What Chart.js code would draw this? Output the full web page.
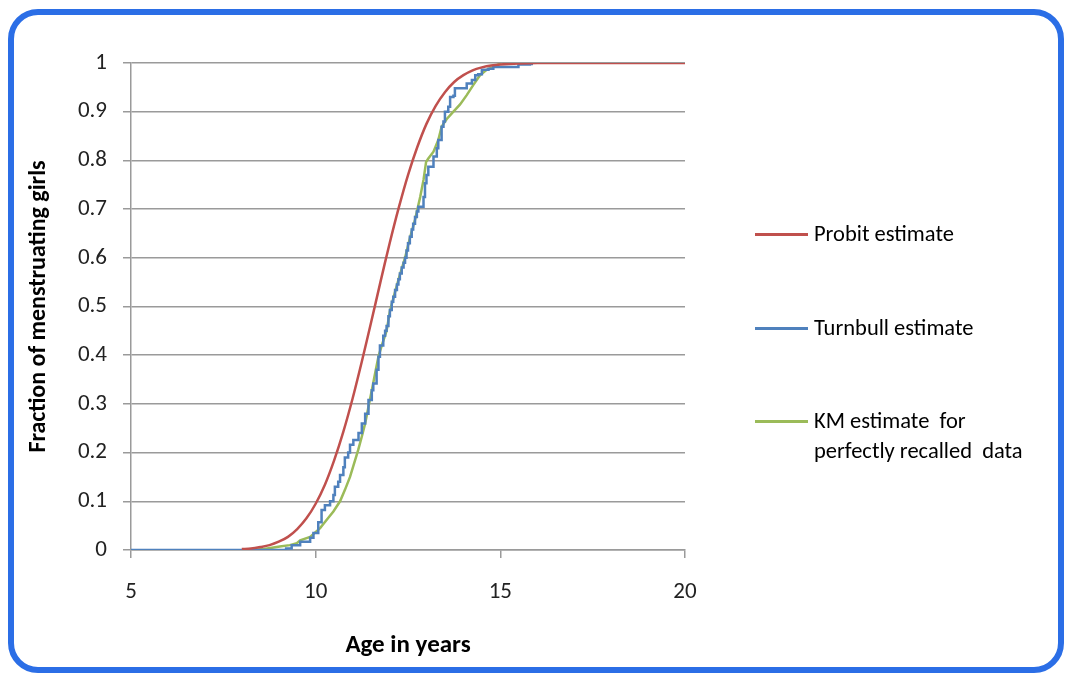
<!DOCTYPE html>
<html>
<head>
<meta charset="utf-8">
<script src="https://cdn.jsdelivr.net/npm/chart.js@4/dist/chart.umd.min.js"></script>
<style>
  html, body { margin: 0; padding: 0; background: #fff; }
  #wrap { position: relative; width: 1067px; height: 675px; overflow: hidden; background: #fff; }
  #chart { position: absolute; left: 0; top: 0; }
  #frame {
    position: absolute; left: 8px; top: 9px; width: 1056px; height: 664px;
    box-sizing: border-box; border: 6.5px solid #2b6ee6; border-radius: 30px;
    pointer-events: none;
  }
  #legend { position: absolute; left: 755px; top: 0; font-family: Carlito, Lato, sans-serif; font-size: 22.5px; color: #000; }
  .item { position: absolute; left: 0; width: 300px; }
  .item .swatch { position: absolute; left: 0; width: 53px; height: 2.5px; }
  .item .txt { position: absolute; left: 59px; width: 300px; line-height: 30px; white-space: pre; }
</style>
</head>
<body>
<div id="wrap">
  <canvas id="chart" width="1067" height="675"></canvas>
  <div id="legend"></div>
  <div id="frame"></div>
</div>
<script>
(function(){
    // Probit estimate (red, smooth)
    const probitAge  = [8.0, 8.25, 8.5, 8.75, 9.0, 9.25, 9.5, 9.75, 10.0, 10.25, 10.5, 10.75, 11.0, 11.25, 11.5, 11.75,
                        12.0, 12.25, 12.5, 12.75, 13.0, 13.25, 13.5, 13.75, 14.0, 14.25, 14.5, 14.75, 15.0, 15.5, 16.0, 20.0];
    const probitFrac = [0.002, 0.003, 0.006, 0.010, 0.017, 0.027, 0.043, 0.065, 0.095, 0.134, 0.184, 0.243, 0.311, 0.387, 0.467, 0.549,
                        0.629, 0.703, 0.770, 0.827, 0.875, 0.912, 0.940, 0.961, 0.975, 0.985, 0.991, 0.995, 0.997, 0.999, 1.0, 1.0];

    // Turnbull estimate (blue, step function)
    const turnbullAge  = [5.0, 9.03, 9.2, 9.35, 9.58, 9.85, 9.94, 10.07, 10.16, 10.25, 10.39, 10.48, 10.52, 10.61, 10.66, 10.75,
                          10.79, 10.88, 10.93, 11.02, 11.16, 11.25, 11.34, 11.43, 11.52, 11.56, 11.65, 11.7, 11.74, 11.83, 11.88,
                          11.92, 11.97, 12.01, 12.06, 12.1, 12.15, 12.2, 12.24, 12.28, 12.33, 12.38, 12.42, 12.46, 12.5, 12.55,
                          12.6, 12.64, 12.69, 12.74, 12.78, 12.87, 12.92, 12.96, 13.0, 13.05, 13.19, 13.28, 13.32, 13.41, 13.46,
                          13.5, 13.59, 13.64, 13.73, 13.77, 14.09, 14.23, 14.32, 14.4, 14.5, 14.68, 14.81, 15.49, 15.8, 15.85];
    const turnbullFrac = [0.0, 0.0, 0.003, 0.01, 0.017, 0.025, 0.035, 0.057, 0.082, 0.092, 0.1, 0.113, 0.13, 0.14, 0.154, 0.17,
                          0.19, 0.2, 0.216, 0.226, 0.24, 0.26, 0.28, 0.308, 0.328, 0.342, 0.37, 0.397, 0.42, 0.44, 0.45,
                          0.46, 0.48, 0.493, 0.51, 0.52, 0.534, 0.545, 0.556, 0.568, 0.58, 0.59, 0.6, 0.615, 0.63, 0.643,
                          0.658, 0.67, 0.684, 0.695, 0.705, 0.705, 0.725, 0.753, 0.77, 0.787, 0.808, 0.825, 0.842, 0.869, 0.88,
                          0.9, 0.91, 0.93, 0.933, 0.948, 0.958, 0.965, 0.975, 0.977, 0.986, 0.988, 0.992, 0.997, 0.998, 1.0];

    // KM estimate for perfectly recalled data (green)
    const kmAge  = [8.2, 8.6, 9.03, 9.3, 9.49, 9.58, 9.85, 10.12, 10.3, 10.48, 10.66, 10.79, 10.93, 11.07, 11.15, 11.25, 11.34,
                    11.43, 11.52, 11.61, 11.7, 11.79, 11.92, 12.01, 12.15, 12.28, 12.42, 12.55, 12.69, 12.83, 12.92, 12.99,
                    13.05, 13.19, 13.32, 13.41, 13.46, 13.55, 13.73, 13.91, 14.09, 14.27, 14.45, 14.63, 14.81, 14.95, 15.0];
    const kmFrac = [0.0, 0.002, 0.007, 0.01, 0.014, 0.02, 0.027, 0.045, 0.062, 0.079, 0.1, 0.123, 0.15, 0.185, 0.205, 0.233, 0.26,
                    0.294, 0.328, 0.363, 0.397, 0.42, 0.45, 0.49, 0.53, 0.565, 0.6, 0.64, 0.678, 0.725, 0.76, 0.797,
                    0.804, 0.818, 0.842, 0.869, 0.875, 0.885, 0.9, 0.915, 0.934, 0.955, 0.975, 0.986, 0.992, 0.997, 1.0];

    const xTicks = [5, 10, 15, 20];
    const seriesLabels = ['Probit estimate', 'Turnbull estimate', 'KM estimate  for\nperfectly recalled  data'];
    const colors = ['#c0504d', '#4f81bd', '#9bbb59'];

    const pts = (xs, ys) => xs.map((x, i) => ({ x: x, y: ys[i] }));
    const font = 'Carlito, Lato, sans-serif';
    const gridColor = '#9a9a9a';

    const datasets = [
        { label: seriesLabels[0], data: pts(probitAge, probitFrac), borderColor: colors[0], tension: 0.3 },
        { label: seriesLabels[1], data: pts(turnbullAge, turnbullFrac), borderColor: colors[1], stepped: 'before' },
        { label: seriesLabels[2], data: pts(kmAge, kmFrac), borderColor: colors[2] }
    ].map(d => Object.assign({
        showLine: true, fill: false, borderWidth: 2.5, pointRadius: 0, backgroundColor: d.borderColor
    }, d));

    const ctx = document.getElementById('chart');
    const chart = new Chart(ctx, {
        type: 'scatter',
        data: { datasets: datasets },
        options: {
            responsive: false,
            animation: false,
            events: [],
            layout: { padding: { left: 22, top: 63, right: 382, bottom: 8 } },
            plugins: { legend: { display: false }, tooltip: { enabled: false } },
            scales: {
                x: {
                    type: 'linear', min: 5, max: 20,
                    afterBuildTicks: s => { s.ticks = xTicks.map(v => ({ value: v })); },
                    afterFit: s => { s.height = 117; },
                    grid: { drawOnChartArea: false, drawTicks: true, tickLength: 8, color: gridColor, lineWidth: 1.5 },
                    border: { color: gridColor, width: 1.5 },
                    ticks: { padding: 20, color: '#222', font: { family: font, size: 23 } },
                    title: { display: true, text: 'Age in years', color: '#000', padding: { top: 0, bottom: 6 },
                             font: { family: font, size: 25, weight: 'bold' } }
                },
                y: {
                    type: 'linear', min: 0, max: 1,
                    ticks: { stepSize: 0.1, padding: 16, color: '#222', font: { family: font, size: 23 },
                             callback: v => String(Math.round(v * 10) / 10) },
                    afterFit: s => { s.width = 109; },
                    grid: { color: gridColor, lineWidth: 1.5, tickLength: 8 },
                    border: { color: gridColor, width: 1.5 },
                    title: { display: true, text: 'Fraction of menstruating girls', color: '#000', padding: { top: 3, bottom: 0 },
                             font: { family: font, size: 24, weight: 'bold' } }
                }
            }
        }
    });

    // HTML legend beside the plot
    const legendTops = [234, 328, 421];
    const legend = document.getElementById('legend');
    chart.data.datasets.forEach((ds, i) => {
        const item = document.createElement('div');
        item.className = 'item';
        item.style.top = legendTops[i] + 'px';
        const sw = document.createElement('div');
        sw.className = 'swatch';
        sw.style.background = ds.borderColor;
        sw.style.top = '-1px';
        const txt = document.createElement('div');
        txt.className = 'txt';
        txt.style.top = '-15px';
        txt.textContent = ds.label;
        item.appendChild(sw);
        item.appendChild(txt);
        legend.appendChild(item);
    });
})();
</script>
</body>
</html>
